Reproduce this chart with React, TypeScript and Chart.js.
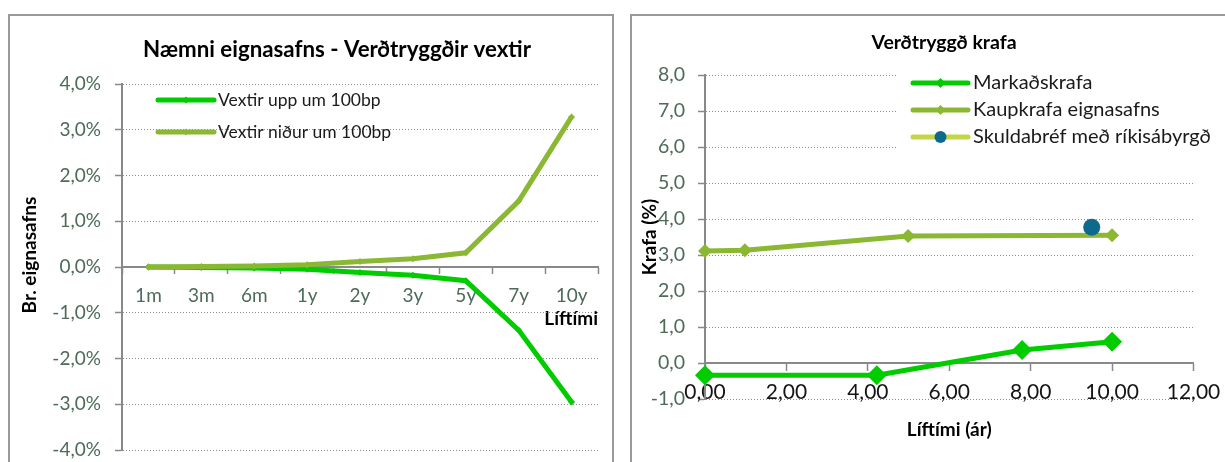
import { useEffect, useRef } from 'react';
import { Chart, registerables } from 'chart.js';

Chart.register(...registerables);

// ---------- data: left chart ----------
const terms = ['1m', '3m', '6m', '1y', '2y', '3y', '5y', '7y', '10y'];
const ratesUp = [0, -0.01, -0.02, -0.05, -0.12, -0.18, -0.3, -1.38, -2.95];
const ratesDown = [0, 0.01, 0.02, 0.05, 0.12, 0.18, 0.31, 1.44, 3.28];
const leftSeriesNames = ['Vextir upp um 100bp', 'Vextir niður um 100bp'];

// ---------- data: right chart ----------
const marketX = [0, 4.22, 7.79, 10];
const marketY = [-0.34, -0.34, 0.36, 0.59];
const portfolioX = [0, 0.98, 4.99, 10];
const portfolioY = [3.11, 3.13, 3.53, 3.55];
const govX = [9.5];
const govY = [3.77];
const rightSeriesNames = ['Markaðskrafa', 'Kaupkrafa eignasafns', 'Skuldabréf með ríkisábyrgð'];

const BRIGHT = '#00CC00';
const OLIVE = '#8AB833';
const LIME = '#C4D647';
const TEAL = '#0E6A8C';
const AXIS = '#898989';
const GRID = '#8c8c8c';
const TICK = '#4E6B5A';
const FONT = 'Lato';

const insideLegend = {
  id: 'insideLegend',
  afterDatasetsDraw(chart: any, _args: any, opts: any) {
    if (!opts || opts.x === undefined) return;
    const ctx = chart.ctx;
    ctx.save();
    if (opts.box) {
      ctx.fillStyle = opts.box.color;
      ctx.fillRect(opts.box.x, opts.box.y, opts.box.w, opts.box.h);
    }
    ctx.font = `${opts.fontSize}px ${FONT}`;
    ctx.textBaseline = 'middle';
    ctx.textAlign = 'left';
    chart.data.datasets.forEach((ds: any, i: number) => {
      const cy = opts.y + i * opts.rowHeight;
      const x0 = opts.x;
      const x1 = opts.x + opts.lineLength;
      ctx.strokeStyle = ds.borderColor;
      ctx.lineWidth = opts.lineWidth;
      ctx.lineCap = 'round';
      ctx.beginPath();
      ctx.moveTo(x0, cy);
      ctx.lineTo(x1, cy);
      ctx.stroke();
      const mx = (x0 + x1) / 2;
      const r = ds.legendMarkerRadius ?? 3;
      ctx.fillStyle = ds.pointBackgroundColor;
      ctx.beginPath();
      if (ds.pointStyle === 'circle') {
        ctx.arc(mx, cy, r, 0, Math.PI * 2);
      } else {
        ctx.moveTo(mx, cy - r);
        ctx.lineTo(mx + r, cy);
        ctx.lineTo(mx, cy + r);
        ctx.lineTo(mx - r, cy);
        ctx.closePath();
      }
      ctx.fill();
      ctx.fillStyle = opts.color;
      ctx.fillText(ds.label, x1 + opts.textGap, cy);
    });
    ctx.restore();
  },
};

// chart title and rotated axis title, placed freely on the canvas
const freeText = {
  id: 'freeText',
  afterDraw(chart: any, _args: any, opts: any) {
    if (!opts || !opts.items) return;
    const ctx = chart.ctx;
    opts.items.forEach((it: any) => {
      ctx.save();
      ctx.translate(it.x, it.y);
      if (it.rotate) ctx.rotate(it.rotate);
      ctx.font = `bold ${it.size}px ${FONT}`;
      ctx.fillStyle = '#000';
      ctx.textAlign = 'center';
      ctx.textBaseline = 'middle';
      ctx.fillText(it.text, 0, 0);
      ctx.restore();
    });
  },
};

const comma = (v: number, d: number) => v.toFixed(d).replace('.', ',');

export default function App() {
  const leftRef = useRef<HTMLCanvasElement>(null);
  const rightRef = useRef<HTMLCanvasElement>(null);

  useEffect(() => {
    const left = new Chart(leftRef.current as HTMLCanvasElement, {
      type: 'line',
      data: {
        labels: terms,
        datasets: [
          {
            label: leftSeriesNames[0],
            data: ratesUp,
            borderColor: BRIGHT,
            backgroundColor: BRIGHT,
            pointBackgroundColor: BRIGHT,
            borderWidth: 5,
            pointStyle: 'rectRot',
            pointRadius: 3.5,
            pointBorderWidth: 0,
            tension: 0,
            order: 1,
            clip: false,
            legendMarkerRadius: 3.5,
          } as any,
          {
            label: leftSeriesNames[1],
            data: ratesDown,
            borderColor: OLIVE,
            backgroundColor: OLIVE,
            pointBackgroundColor: OLIVE,
            borderWidth: 5,
            pointStyle: 'rectRot',
            pointRadius: 3.5,
            pointBorderWidth: 0,
            tension: 0,
            order: 0,
            clip: false,
            legendMarkerRadius: 3.5,
          } as any,
        ],
      },
      options: {
        responsive: false,
        animation: false,
        events: [],
        layout: { padding: { left: 0, right: 76, top: 84, bottom: 12 } },
        plugins: {
          legend: { display: false },
          tooltip: { enabled: false },
          title: { display: false },
          insideLegend: {
            x: 158,
            y: 100,
            rowHeight: 32,
            lineLength: 56,
            lineWidth: 5,
            textGap: 4,
            fontSize: 17.5,
            color: '#1a1a1a',
          },
          freeText: {
            items: [
              { text: 'Næmni eignasafns - Verðtryggðir vextir', x: 337, y: 50, size: 22.3 },
              { text: 'Br. eignasafns', x: 30, y: 255, size: 19, rotate: -Math.PI / 2 },
            ],
          },
        } as any,
        scales: {
          x: {
            type: 'category',
            position: { y: 0 } as any,
            offset: true,
            grid: {
              offset: true,
              drawOnChartArea: false,
              drawTicks: true,
              tickLength: 6,
              tickColor: AXIS,
              tickWidth: 1.5,
            },
            border: { color: AXIS, width: 2 },
            ticks: {
              font: { family: FONT, size: 19 },
              color: TICK,
              padding: 11,
              maxRotation: 0,
              autoSkip: false,
            },
            title: {
              display: true,
              text: 'Líftími',
              align: 'end',
              color: '#000',
              font: { family: FONT, size: 19, weight: 'bold' },
              padding: 0,
            },
            afterFit: (s: any) => {
              s.height = 63.4;
            },
          },
          y: {
            min: -4,
            max: 4,
            ticks: {
              stepSize: 1,
              callback: (v: any) => comma(Number(v), 1) + '%',
              font: { family: FONT, size: 19 },
              color: TICK,
              padding: 14,
            },
            grid: {
              color: GRID,
              lineWidth: 1,
              tickLength: 7,
              tickColor: AXIS,
              tickWidth: 1.5,
              tickBorderDash: [],
            },
            border: { color: AXIS, width: 2, dash: [1, 2] },
            afterFit: (s: any) => {
              s.width = 122;
              s.paddingTop = 0;
              s.paddingBottom = 0;
            },
          },
        },
      },
      plugins: [insideLegend, freeText],
    });

    const right = new Chart(rightRef.current as HTMLCanvasElement, {
      type: 'line',
      data: {
        datasets: [
          {
            label: rightSeriesNames[0],
            data: marketX.map((x, i) => ({ x, y: marketY[i] })),
            borderColor: BRIGHT,
            backgroundColor: BRIGHT,
            pointBackgroundColor: BRIGHT,
            borderWidth: 5,
            pointStyle: 'rectRot',
            pointRadius: 10,
            pointBorderWidth: 0,
            tension: 0,
            order: 2,
            clip: false,
            legendMarkerRadius: 5,
          } as any,
          {
            label: rightSeriesNames[1],
            data: portfolioX.map((x, i) => ({ x, y: portfolioY[i] })),
            borderColor: OLIVE,
            backgroundColor: OLIVE,
            pointBackgroundColor: OLIVE,
            borderWidth: 5,
            pointStyle: 'rectRot',
            pointRadius: 7,
            pointBorderWidth: 0,
            tension: 0,
            order: 1,
            clip: false,
            legendMarkerRadius: 5,
          } as any,
          {
            label: rightSeriesNames[2],
            data: govX.map((x, i) => ({ x, y: govY[i] })),
            borderColor: LIME,
            backgroundColor: TEAL,
            pointBackgroundColor: TEAL,
            borderWidth: 5,
            pointStyle: 'circle',
            pointRadius: 8.5,
            pointBorderWidth: 0,
            order: 0,
            clip: false,
            legendMarkerRadius: 6,
          } as any,
        ],
      },
      options: {
        responsive: false,
        animation: false,
        events: [],
        layout: { padding: { left: 0, right: 74.5, top: 75, bottom: 63 } },
        plugins: {
          legend: { display: false },
          tooltip: { enabled: false },
          title: { display: false },
          insideLegend: {
            box: { x: 277, y: 62, w: 330, h: 92, color: '#fff' },
            x: 293,
            y: 83,
            rowHeight: 27,
            lineLength: 55,
            lineWidth: 5,
            textGap: 5,
            fontSize: 20,
            color: '#1a1a1a',
          },
          freeText: {
            items: [
              { text: 'Verðtryggð krafa', x: 324, y: 43, size: 19.5 },
              { text: 'Krafa (%)', x: 30, y: 237, size: 19, rotate: -Math.PI / 2 },
            ],
          },
        } as any,
        scales: {
          x: {
            type: 'linear',
            min: 0,
            max: 12,
            position: { y: 0 } as any,
            grid: {
              drawOnChartArea: false,
              drawTicks: true,
              tickLength: 7,
              tickColor: AXIS,
              tickWidth: 1.5,
            },
            border: { color: AXIS, width: 2 },
            ticks: {
              stepSize: 2,
              callback: (v: any) => comma(Number(v), 2),
              font: { family: FONT, size: 21 },
              color: '#151515',
              padding: 10,
              maxRotation: 0,
            },
            title: {
              display: true,
              text: 'Líftími (ár)',
              color: '#000',
              font: { family: FONT, size: 19, weight: 'bold' },
              padding: 0,
            },
            afterFit: (s: any) => {
              s.height = 78.4;
            },
          },
          y: {
            min: -1,
            max: 8,
            ticks: {
              stepSize: 1,
              callback: (v: any) => comma(Number(v), 1),
              font: { family: FONT, size: 19.5 },
              color: TICK,
              padding: 13,
            },
            grid: {
              color: GRID,
              lineWidth: 1,
              tickLength: 7,
              tickColor: AXIS,
              tickWidth: 1.5,
              tickBorderDash: [],
            },
            border: { color: AXIS, width: 2, dash: [1, 2] },
            afterFit: (s: any) => {
              s.width = 85;
              s.paddingTop = 0;
              s.paddingBottom = 0;
            },
          },
        },
      },
      plugins: [insideLegend, freeText],
    });

    return () => {
      left.destroy();
      right.destroy();
    };
  }, []);

  return (
    <div
      style={{
        position: 'fixed',
        left: 0,
        top: 0,
        width: 1225,
        height: 462,
        overflow: 'hidden',
        background: '#fff',
      }}
    >
      <div
        style={{
          position: 'absolute',
          left: 8,
          top: 14,
          width: 606,
          height: 480,
          border: '2px solid #9a9a9a',
          boxSizing: 'border-box',
        }}
      />
      <div
        style={{
          position: 'absolute',
          left: 630,
          top: 14,
          width: 640,
          height: 480,
          border: '2px solid #9a9a9a',
          boxSizing: 'border-box',
        }}
      />
      <canvas
        ref={leftRef}
        width={674}
        height={462}
        style={{ position: 'absolute', left: 0, top: 0 }}
      />
      <canvas
        ref={rightRef}
        width={648}
        height={462}
        style={{ position: 'absolute', left: 620, top: 0 }}
      />
    </div>
  );
}
